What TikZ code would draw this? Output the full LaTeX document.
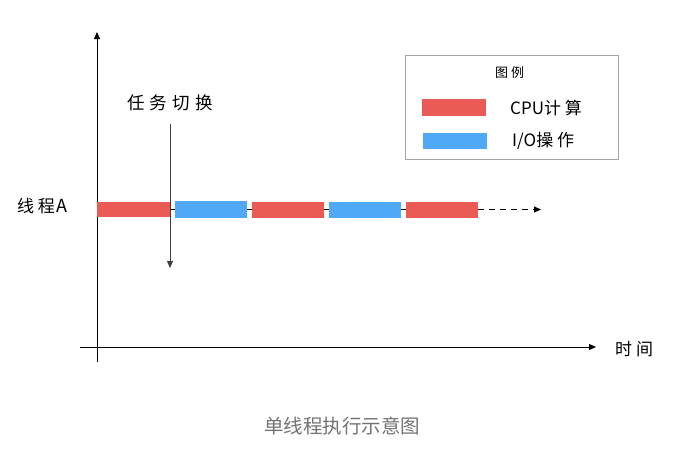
\documentclass[tikz,border=0pt]{standalone}
\usepackage{fontspec}
\newfontfamily\cjk{Noto Sans CJK SC}
\newfontfamily\cjksp{Noto Sans CJK SC}[LetterSpace=22]
\newfontfamily\cjkwide{Noto Sans CJK SC}[LetterSpace=30]
\usetikzlibrary{arrows.meta}
\definecolor{cpured}{HTML}{EB5B55}
\definecolor{ioblue}{HTML}{4FA9F7}
\begin{document}
\begin{tikzpicture}[x=1pt,y=-1pt,
  bar/.style={draw=none,inner sep=0pt,minimum height=16pt,anchor=west},
  cpubar/.style={bar,fill=cpured},
  iobar/.style={bar,fill=ioblue},
  lbl/.style={font=\cjksp\fontsize{17}{19}\selectfont,inner sep=0pt},
  axis/.style={black,line width=1pt,-{Triangle[length=7pt,width=6pt]}}]
\useasboundingbox (0,0) rectangle (676,450);
% axes
\coordinate (ybot) at (97,362);
\coordinate (ytop) at (97,32);
\coordinate (xl) at (80,347);
\coordinate (xr) at (596,347);
\draw[axis] (ybot) -- (ytop);
\draw[axis] (xl) -- (xr);
\node[lbl,anchor=west] (time) at (615,349) {时\hspace{4pt}间};
% bars
\node[cpubar,minimum width=73pt,minimum height=15pt] (c1) at (97,209.5) {};
\node[iobar,minimum width=72pt,minimum height=17pt] (i1) at (175,209.5) {};
\node[cpubar,minimum width=72pt] (c2) at (252,209.5) {};
\node[iobar,minimum width=72pt] (i2) at (329,209.5) {};
\node[cpubar,minimum width=72pt] (c3) at (406,209.5) {};
\coordinate (dend) at (541,209.5);
\draw[line width=0.8pt] (c1.east) -- (i1.west);
\draw[line width=0.8pt] (i1.east) -- (c2.west);
\draw[line width=0.8pt] (c2.east) -- (i2.west);
\draw[line width=0.8pt] (i2.east) -- (c3.west);
\draw[line width=1pt,dash pattern=on 6pt off 5pt,-{Triangle[length=7pt,width=6pt]}] (c3.east) -- (dend);
\node[lbl,anchor=west] (thr) at (17,206) {线程\hspace{2pt}{\cjk\fontsize{18}{19}\selectfont A}};
% task switch
\node[font=\cjkwide\fontsize{17.5}{19}\selectfont,inner sep=0pt,anchor=west] (sw) at (127,103) {任务切换};
\coordinate (swtop) at (170,124);
\coordinate (swbot) at (170,268);
\draw[black!75,line width=0.9pt,-{Triangle[length=7pt,width=6pt]}] (swtop) -- (swbot);
% legend
\node[draw=black!35,line width=0.8pt,minimum width=213pt,minimum height=104pt,inner sep=0pt,anchor=north west] (leg) at (405,55) {};
\node[font=\cjksp\fontsize{13}{15}\selectfont,inner sep=0pt,anchor=west] (legt) at (495,73) {图例};
\node[cpubar,minimum width=64pt,minimum height=17pt] (lc) at (422,107.5) {};
\node[iobar,minimum width=64pt,minimum height=16pt] (li) at (423,141) {};
\node[lbl,anchor=west] (lct) at (510,108) {{\cjk CPU}计算};
\node[lbl,anchor=west] (lit) at (512,141) {{\cjk I/O}操作};
% caption
\node[font=\cjk\fontsize{19.5}{21}\selectfont,text=black!55,inner sep=0pt] (cap) at (342,426) {单线程执行示意图};
\end{tikzpicture}
\end{document}
